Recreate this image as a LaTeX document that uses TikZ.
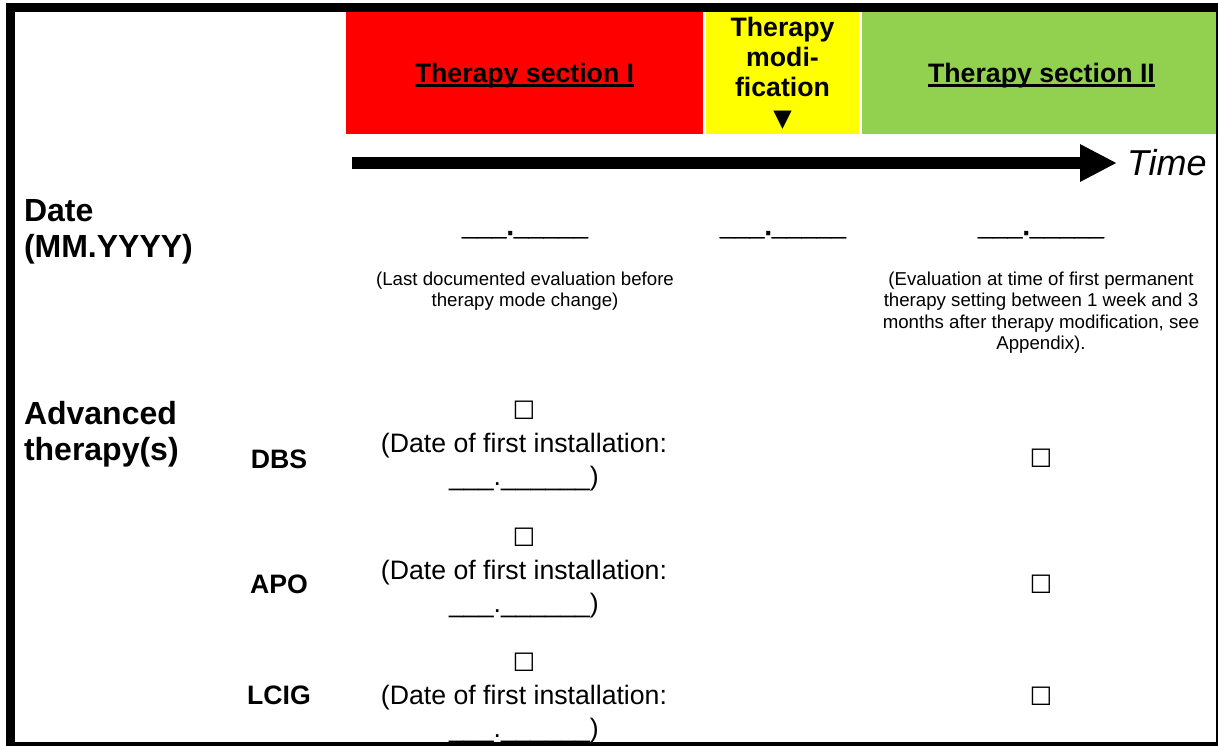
\documentclass[tikz,border=0pt]{standalone}
\usepackage{fontspec}
\setmainfont{Liberation Sans}
\newfontfamily\symfont{DejaVu Sans}
\newfontfamily\blankfont{Liberation Sans Bold}[FakeBold=1.2]
\usetikzlibrary{arrows.meta}
\definecolor{secred}{RGB}{255,0,0}
\definecolor{secyellow}{RGB}{255,255,0}
\definecolor{secgreen}{RGB}{146,208,80}
\newcommand\thul[1]{\setbox0\hbox{#1}\rlap{\rule[-0.2em]{\wd0}{0.11em}}\box0}
\newcommand\cbox{{\symfont\fontsize{19}{24.4}\selectfont ☐}}
\begin{document}
\begin{tikzpicture}[x=0.75pt,y=-0.75pt,
  every node/.style={inner sep=0pt, outer sep=0pt},
  hdr/.style={font=\fontsize{20}{22.5}\selectfont\bfseries},
  rowlbl/.style={font=\fontsize{24}{27}\selectfont\bfseries, align=left, anchor=north west},
  sublbl/.style={font=\fontsize{20}{24}\selectfont\bfseries},
  blank/.style={font=\blankfont\fontsize{20}{24}\selectfont, anchor=base},
  note/.style={font=\fontsize{14}{16.1}\selectfont, align=center},
  instbox/.style={font=\fontsize{20}{24.4}\selectfont, align=center},
  frame/.style={fill=black}]
\useasboundingbox (0,0) rectangle (1218,746);
% header cells
\fill[secred] (346,12) rectangle (703,134);
\fill[secyellow] (706,12) rectangle (859,134);
\fill[secgreen] (862,12) rectangle (1215.5,134);
\node[hdr, anchor=base] (secI) at (524.5,82) {\thul{Therapy section I}};
\node[hdr, anchor=base] (secII) at (1041.5,82) {\thul{Therapy section II}};
\node[hdr, anchor=north, align=center] (mod) at (782.5,17.5) {Therapy\\modi-\\fication\\{\symfont\fontsize{18}{22.5}\selectfont ▼}};
% time arrow
\coordinate (tstart) at (352,163);
\coordinate (ttip) at (1117,163);
\draw[line width=9pt, -{Triangle[length=27.75pt,width=26.25pt]}] (tstart) -- (ttip);
\node[font=\fontsize{27}{30}\selectfont\itshape, anchor=base west] (time) at (1127,175) {Time};
% date row
\node[rowlbl] (date) at (24,199) {Date\\(MM.YYYY)};
\node[blank] (d1) at (525,235) {\_\_\_.\_\_\_\_\_};
\node[blank] (d2) at (783,235) {\_\_\_.\_\_\_\_\_};
\node[blank] (d3) at (1041,235) {\_\_\_.\_\_\_\_\_};
\node[note] (n1) at (525,291) {(Last documented evaluation before\\therapy mode change)};
\node[note] (n2) at (1041,312.5) {(Evaluation at time of first permanent\\therapy setting between 1 week and 3\\months after therapy modification, see\\Appendix).};
% advanced therapies
\node[rowlbl] (adv) at (24,401) {Advanced\\therapy(s)};
\node[sublbl] (dbs) at (279,459) {DBS};
\node[sublbl] (apo) at (279,584) {APO};
\node[sublbl] (lcig) at (279,695) {LCIG};
\node[instbox] (b1) at (524,446) {\cbox\\(Date of first installation:\\\_\_\_.\_\_\_\_\_\_)};
\node[instbox] (b2) at (524,573) {\cbox\\(Date of first installation:\\\_\_\_.\_\_\_\_\_\_)};
\node[instbox] (b3) at (524,698) {\cbox\\(Date of first installation:\\\_\_\_.\_\_\_\_\_\_)};
\node (c1) at (1041,458) {\cbox};
\node (c2) at (1041,584) {\cbox};
\node (c3) at (1041,696) {\cbox};
% frame
\fill[frame] (6,3) rectangle (1218,12);
\fill[frame] (6,3) rectangle (15,746);
\fill[frame] (6,742) rectangle (1218,746);
\fill[frame] (1215.5,3) rectangle (1218,746);
\end{tikzpicture}
\end{document}
